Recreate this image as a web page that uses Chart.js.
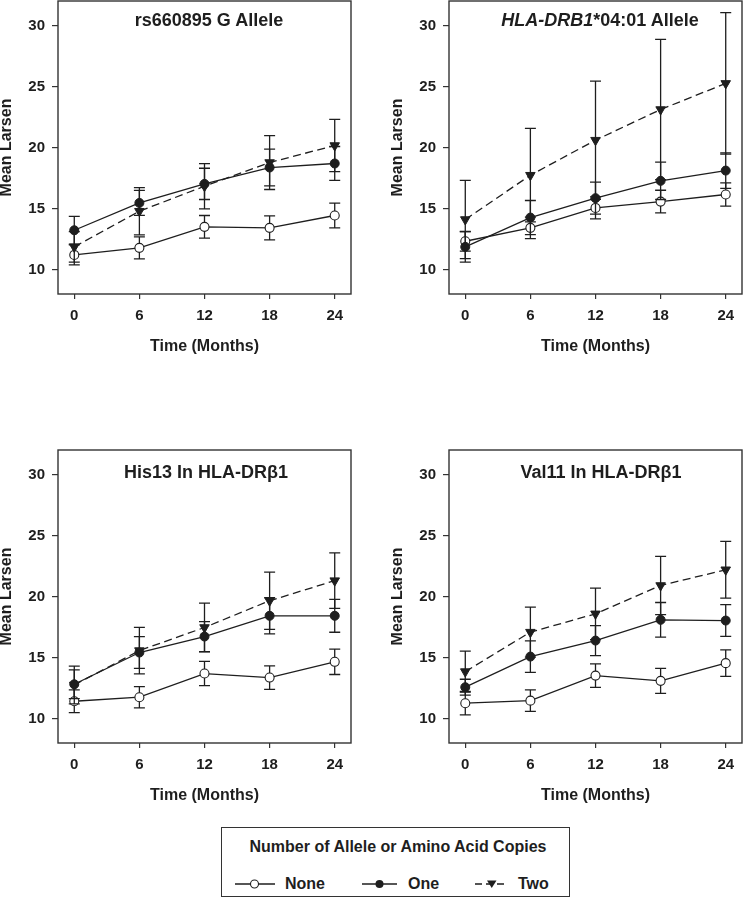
<!DOCTYPE html>
<html><head><meta charset="utf-8">
<script src="https://cdn.jsdelivr.net/npm/chart.js@4.4.0/dist/chart.umd.min.js"></script>
<style>
html,body{margin:0;padding:0;background:#fff;}
body{width:743px;height:900px;overflow:hidden;position:relative;font-family:'Liberation Sans',Arial,Helvetica,sans-serif;color:#1e1e1e;}
canvas.pc{position:absolute;}
.pt{position:absolute;transform:translate(-50%,-50%);white-space:nowrap;font-weight:bold;font-size:18px;line-height:1;}
#legend{position:absolute;left:221px;top:827px;width:349px;height:70px;border:1.5px solid #333;box-sizing:border-box;}
.lt{position:absolute;transform:translate(0,-50%);white-space:nowrap;font-weight:bold;font-size:16px;line-height:1;}
</style></head>
<body>
<canvas id="c1" class="pc" width="365" height="370" style="left:0px;top:0px;width:365px;height:370px"></canvas>
<canvas id="c2" class="pc" width="365" height="370" style="left:391px;top:0px;width:365px;height:370px"></canvas>
<canvas id="c3" class="pc" width="365" height="370" style="left:0px;top:449px;width:365px;height:370px"></canvas>
<canvas id="c4" class="pc" width="365" height="370" style="left:391px;top:449px;width:365px;height:370px"></canvas>

<div class="pt" style="left:209px;top:19.5px">rs660895 G Allele</div>
<div class="pt" style="left:600px;top:19.5px"><i>HLA-DRB1</i>*04:01 Allele</div>
<div class="pt" style="left:206px;top:472px">His13 In HLA-DRβ1</div>
<div class="pt" style="left:601px;top:472px">Val11 In HLA-DRβ1</div>

<div id="legend"></div>
<div class="pt" style="left:398px;top:847px;font-size:16px">Number of Allele or Amino Acid Copies</div>
<svg style="position:absolute;left:0;top:860px" width="743" height="40">
  <line x1="235" y1="24" x2="275" y2="24" stroke="#1e1e1e" stroke-width="1.3"/>
  <circle cx="254.5" cy="24" r="4" fill="#fff" stroke="#1e1e1e" stroke-width="1.1"/>
  <line x1="362" y1="24" x2="397" y2="24" stroke="#1e1e1e" stroke-width="1.3"/>
  <circle cx="379.5" cy="24" r="4" fill="#1e1e1e"/>
  <line x1="475" y1="24" x2="507" y2="24" stroke="#1e1e1e" stroke-width="1.3" stroke-dasharray="7,4"/>
  <polygon points="487,20.5 496.5,20.5 491.75,28" fill="#1e1e1e"/>
</svg>
<div class="lt" style="left:285px;top:884px">None</div>
<div class="lt" style="left:408px;top:884px">One</div>
<div class="lt" style="left:518px;top:884px">Two</div>

<script>
// ---- data ----
const months = [0, 6, 12, 18, 24];
const yTickValues = [10, 15, 20, 25, 30];

// rs660895 G Allele
const rsNone = [11.20, 11.78, 13.50, 13.42, 14.43];
const rsNoneErr = [0.82, 0.90, 0.93, 0.98, 1.02];
const rsOne = [13.22, 15.46, 17.02, 18.36, 18.69];
const rsOneErr = [1.14, 1.02, 1.28, 1.50, 1.39];
const rsTwo = [11.86, 14.78, 16.83, 18.77, 20.16];
const rsTwoErr = [1.25, 1.94, 1.85, 2.21, 2.14];

// HLA-DRB1*04:01 Allele
const drbNone = [12.32, 13.42, 15.05, 15.57, 16.15];
const drbNoneErr = [0.80, 0.88, 0.90, 0.93, 0.96];
const drbOne = [11.86, 14.26, 15.85, 17.27, 18.11];
const drbOneErr = [1.25, 1.40, 1.31, 1.53, 1.45];
const drbTwo = [14.10, 17.73, 20.60, 23.11, 25.25];
const drbTwoErr = [3.20, 3.83, 4.84, 5.74, 5.79];

// His13 In HLA-DRβ1
const hisNone = [11.42, 11.75, 13.69, 13.36, 14.65];
const hisNoneErr = [0.93, 0.87, 0.99, 0.96, 1.04];
const hisOne = [12.81, 15.41, 16.72, 18.42, 18.42];
const hisOneErr = [1.18, 1.30, 1.23, 1.48, 1.35];
const hisTwo = [12.75, 15.57, 17.46, 19.65, 21.30];
const hisTwoErr = [1.55, 1.90, 2.00, 2.35, 2.28];

// Val11 In HLA-DRβ1
const valNone = [11.26, 11.47, 13.52, 13.09, 14.54];
const valNoneErr = [0.96, 0.88, 0.96, 1.03, 1.09];
const valOne = [12.57, 15.08, 16.39, 18.09, 18.03];
const valOneErr = [0.65, 1.29, 1.23, 1.42, 1.30];
const valTwo = [13.85, 17.08, 18.58, 20.90, 22.19];
const valTwoErr = [1.68, 2.05, 2.11, 2.38, 2.32];

// ---- styling ----
const INK = '#1e1e1e';
Chart.defaults.font.family = "'Liberation Sans', Arial, Helvetica, sans-serif";
Chart.defaults.color = INK;

const frame = {
  id: 'frame',
  beforeDatasetsDraw(chart) {
    const a = chart.chartArea, ctx = chart.ctx;
    ctx.save();
    ctx.strokeStyle = '#333';
    ctx.lineWidth = 1.4;
    ctx.strokeRect(a.left, a.top, a.right - a.left, a.bottom - a.top);
    ctx.restore();
  }
};

const errorBars = {
  id: 'errorBars',
  beforeDatasetDraw(chart, args) {
    const ds = chart.data.datasets[args.index];
    if (!ds.err) return;
    const xs = chart.scales.x, ys = chart.scales.y, ctx = chart.ctx;
    ctx.save();
    ctx.strokeStyle = INK;
    ctx.lineWidth = 1.3;
    ctx.setLineDash([]);
    ds.data.forEach((p, i) => {
      const x = xs.getPixelForValue(p.x);
      const yl = ys.getPixelForValue(p.y - ds.err[i]);
      const yh = ys.getPixelForValue(p.y + ds.err[i]);
      ctx.beginPath();
      ctx.moveTo(x, yl); ctx.lineTo(x, yh);
      ctx.moveTo(x - 5.5, yl); ctx.lineTo(x + 5.5, yl);
      ctx.moveTo(x - 5.5, yh); ctx.lineTo(x + 5.5, yh);
      ctx.stroke();
    });
    ctx.restore();
  }
};

function makePanel(id, none, noneErr, one, oneErr, two, twoErr) {
  const toPts = arr => months.map((m, i) => ({x: m, y: arr[i]}));
  return new Chart(document.getElementById(id), {
    type: 'line',
    data: {
      datasets: [
        {label: 'None', data: toPts(none), err: noneErr, order: 3,
         borderColor: INK, borderWidth: 1.3, tension: 0,
         pointStyle: 'circle', pointRadius: 4.5, pointBackgroundColor: '#fff',
         pointBorderColor: INK, pointBorderWidth: 1.1},
        {label: 'One', data: toPts(one), err: oneErr, order: 2,
         borderColor: INK, borderWidth: 1.3, tension: 0,
         pointStyle: 'circle', pointRadius: 4.5, pointBackgroundColor: INK,
         pointBorderColor: INK, pointBorderWidth: 1},
        {label: 'Two', data: toPts(two), err: twoErr, order: 1,
         borderColor: INK, borderWidth: 1.3, borderDash: [8, 4.5], tension: 0,
         pointStyle: 'triangle', pointRotation: 180, pointRadius: 5.5,
         pointBackgroundColor: INK, pointBorderColor: INK, pointBorderWidth: 1}
      ]
    },
    options: {
      responsive: false, animation: false, devicePixelRatio: 1,
      layout: {autoPadding: false, padding: {top: 1, right: 14, bottom: 0, left: 0}},
      plugins: {legend: {display: false}, tooltip: {enabled: false}, title: {display: false}},
      scales: {
        x: {
          type: 'linear', min: -1.5, max: 25.5,
          afterBuildTicks: s => { s.ticks = months.map(v => ({value: v})); },
          afterFit: s => { s.height = 76; s.paddingLeft = 0; s.paddingRight = 0; },
          grid: {drawOnChartArea: false, drawTicks: true, tickLength: 5, color: '#333', lineWidth: 1.2},
          border: {display: false},
          ticks: {padding: 8, font: {size: 15, weight: 'bold'}, color: INK, maxRotation: 0},
          title: {display: true, text: 'Time (Months)', font: {size: 16, weight: 'bold'}, color: INK, padding: {top: 0, bottom: 14}}
        },
        y: {
          type: 'linear', min: 8, max: 32,
          afterBuildTicks: s => { s.ticks = yTickValues.map(v => ({value: v})); },
          afterFit: s => { s.width = 58; s.paddingTop = 0; s.paddingBottom = 0; },
          grid: {drawOnChartArea: false, drawTicks: true, tickLength: 6, color: '#333', lineWidth: 1.2},
          border: {display: false},
          ticks: {padding: 7, font: {size: 15, weight: 'bold'}, color: INK},
          title: {display: true, text: 'Mean Larsen', font: {size: 16, weight: 'bold'}, color: INK, padding: {top: -3, bottom: 0}}
        }
      }
    },
    plugins: [frame, errorBars]
  });
}

makePanel('c1', rsNone, rsNoneErr, rsOne, rsOneErr, rsTwo, rsTwoErr);
makePanel('c2', drbNone, drbNoneErr, drbOne, drbOneErr, drbTwo, drbTwoErr);
makePanel('c3', hisNone, hisNoneErr, hisOne, hisOneErr, hisTwo, hisTwoErr);
makePanel('c4', valNone, valNoneErr, valOne, valOneErr, valTwo, valTwoErr);
</script>
</body></html>
